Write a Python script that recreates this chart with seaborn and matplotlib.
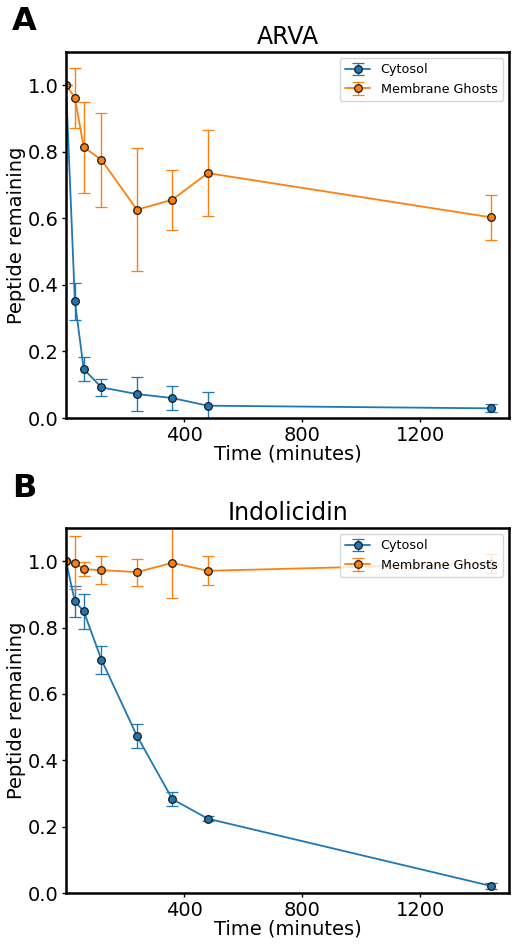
import numpy as np
import seaborn as sns
import matplotlib.pyplot as plt

# Time points (minutes)
time_min = [0, 30, 60, 120, 240, 360, 480, 1440]

# ARVA
arva_cytosol = [1.0, 0.351, 0.147, 0.092, 0.072, 0.060, 0.037, 0.029]
arva_cytosol_err = [0.0, 0.056, 0.036, 0.025, 0.051, 0.036, 0.041, 0.012]
arva_ghosts = [1.0, 0.963, 0.814, 0.776, 0.626, 0.656, 0.736, 0.603]
arva_ghosts_err = [0.0, 0.090, 0.137, 0.141, 0.185, 0.090, 0.130, 0.067]

# Indolicidin
indo_cytosol = [1.0, 0.879, 0.849, 0.703, 0.474, 0.283, 0.224, 0.021]
indo_cytosol_err = [0.0, 0.046, 0.053, 0.042, 0.036, 0.020, 0.007, 0.010]
indo_ghosts = [1.0, 0.995, 0.976, 0.973, 0.967, 0.995, 0.971, 0.993]
indo_ghosts_err = [0.0, 0.080, 0.021, 0.042, 0.041, 0.107, 0.044, 0.029]

series_names = ['Cytosol', 'Membrane Ghosts']
x_ticks = [400, 800, 1200]

sns.set_style('white')
plt.rcParams['font.family'] = ['DejaVu Sans']
plt.rcParams['text.color'] = 'black'
plt.rcParams['axes.labelcolor'] = 'black'
plt.rcParams['xtick.color'] = 'black'
plt.rcParams['ytick.color'] = 'black'
colors = sns.color_palette('tab10', 2)


def draw_panel(ax, title, cyto, cyto_err, ghost, ghost_err):
    for vals, errs, name, col in zip([cyto, ghost], [cyto_err, ghost_err],
                                     series_names, colors):
        ax.errorbar(time_min, vals, yerr=errs, color=col, label=name,
                    marker='o', markersize=5.5, markerfacecolor=col,
                    markeredgecolor='#1a1a1a', markeredgewidth=0.9,
                    linewidth=1.3, elinewidth=1.0, capsize=4, capthick=1.0)
    ax.set_xlim(0, 1500)
    ax.set_ylim(0, 1.1)
    ax.set_xticks(x_ticks)
    ax.set_yticks([0.0, 0.2, 0.4, 0.6, 0.8, 1.0])
    ax.set_yticklabels(['0.0', '0.2', '0.4', '0.6', '0.8', '1.0'])
    ax.tick_params(labelsize=14, length=3, width=1.0, pad=2.5,
                   left=True, bottom=True)
    ax.set_xlabel('Time (minutes)', fontsize=14, labelpad=0)
    ax.set_ylabel('Peptide remaining', fontsize=14, labelpad=1)
    ax.set_title(title, fontsize=17, pad=6)
    for sp in ax.spines.values():
        sp.set_color('black')
        sp.set_linewidth(1.8)
    ax.legend(loc='upper right', fontsize=9.2, frameon=True)


fig = plt.figure(figsize=(5.19, 9.47), dpi=100)
ax1 = fig.add_axes([66 / 519, 1 - 418 / 947, 443 / 519, 366 / 947])
ax2 = fig.add_axes([66 / 519, 1 - 893 / 947, 443 / 519, 365 / 947])

draw_panel(ax1, 'ARVA', arva_cytosol, arva_cytosol_err, arva_ghosts, arva_ghosts_err)
draw_panel(ax2, 'Indolicidin', indo_cytosol, indo_cytosol_err, indo_ghosts, indo_ghosts_err)

fig.text(12 / 519, 1 - 22 / 947, 'A', fontsize=23, fontweight='bold', va='center', ha='left')
fig.text(12 / 519, 1 - 488 / 947, 'B', fontsize=23, fontweight='bold', va='center', ha='left')

fig.savefig('out.png', dpi=100)
